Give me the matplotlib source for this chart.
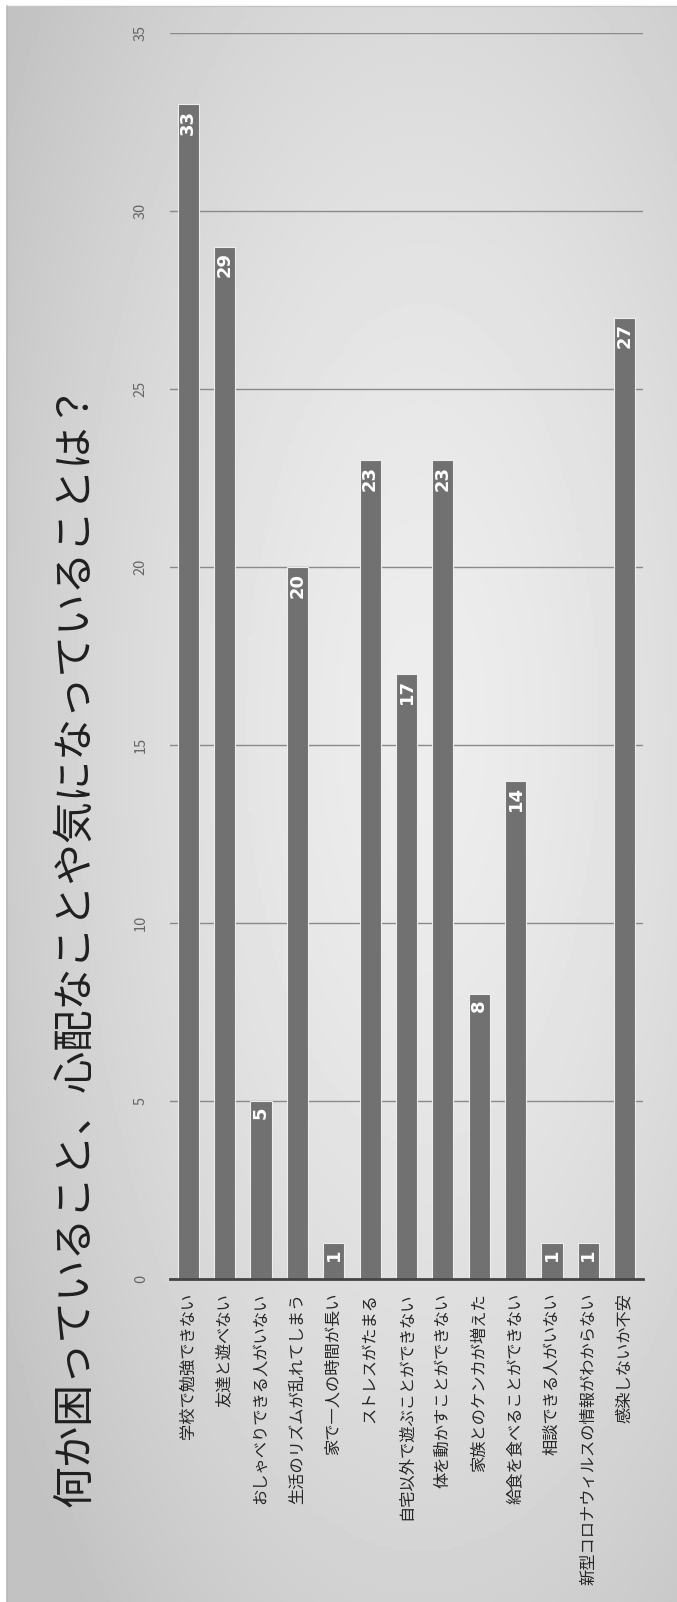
import numpy as np
import matplotlib
matplotlib.use('Agg')
from matplotlib import pyplot as plt

plt.rcParams['font.family'] = ['Noto Sans CJK JP', 'DejaVu Sans']

categories = ['学校で勉強できない', '友達と遊べない', 'おしゃべりできる人がいない',
              '生活のリズムが乱れてしまう', '家で一人の時間が長い', 'ストレスがたまる',
              '自宅以外で遊ぶことができない', '体を動かすことができない',
              '家族とのケンカが増えた', '給食を食べることができない',
              '相談できる人がいない', '新型コロナウィルスの情報がわからない',
              '感染しないか不安']
counts = [33, 29, 5, 20, 1, 23, 17, 23, 8, 14, 1, 1, 27]
yticks = [0, 5, 10, 15, 20, 25, 30, 35]
title = '何か困っていること、心配なことや気になっていることは？'

fig = plt.figure(figsize=(6.77, 16.02), dpi=100)
fig.patch.set_facecolor('white')

# background panel with soft radial gradient
bg = fig.add_axes([7/677, 0, 1 - 7/677, 1 - 6/1602])
gx, gy = np.meshgrid(np.linspace(0, 1, 200), np.linspace(0, 1, 400))
d = np.sqrt(((gx - 0.62) / 0.75) ** 2 + ((gy - 0.55) / 0.75) ** 2)
shade = 0.93 - 0.17 * np.clip(d, 0, 1) ** 1.5
bg.imshow(shade, cmap='gray', vmin=0, vmax=1, aspect='auto',
          extent=[0, 1, 0, 1], origin='lower')
bg.set_axis_off()
fig.add_artist(plt.Line2D([7/677, 7/677], [0, 1 - 6/1602], color='#b8b8b8', lw=1.2))
fig.add_artist(plt.Line2D([7/677, 1], [1 - 6/1602, 1 - 6/1602], color='#c4c4c4', lw=1))

ax = fig.add_axes([170/677, 323/1602, 473/677, 1246/1602])
ax.patch.set_alpha(0)
x = np.arange(len(categories))
ax.bar(x, counts, width=0.58, color='#717171', edgecolor='#eeeeee', linewidth=0.8, zorder=3)

for xi, v in zip(x, counts):
    ax.annotate(str(v), (xi, v), xytext=(0, -4), textcoords='offset points',
                rotation=90, ha='center', va='top', color='white',
                fontsize=13, fontweight='bold', family=['DejaVu Sans'], zorder=4)

ax.set_xlim(-0.5, len(categories) - 0.5)
ax.set_ylim(0, 35)
ax.set_yticks(yticks)
ax.set_yticklabels([str(t) for t in yticks], rotation=90, va='center',
                   color='#666666', fontsize=10.5)
ax.set_xticks(x)
ax.set_xticklabels(categories, rotation=90, fontsize=11.7, color='#262626')
ax.tick_params(axis='both', length=0)
ax.tick_params(axis='y', pad=16)
ax.tick_params(axis='x', pad=10)
ax.grid(axis='y', color='#8a8a8a', linewidth=1.0, zorder=0)
for s in ['top', 'right', 'left']:
    ax.spines[s].set_visible(False)
ax.spines['bottom'].set_color('#444444')
ax.spines['bottom'].set_linewidth(2)
ax.spines['bottom'].set_zorder(5)

fig.text(76/677, 0.41, title, rotation=90, ha='center', va='center',
         fontsize=30, color='#1f1f1f')

fig.savefig('out.png', dpi=100)
